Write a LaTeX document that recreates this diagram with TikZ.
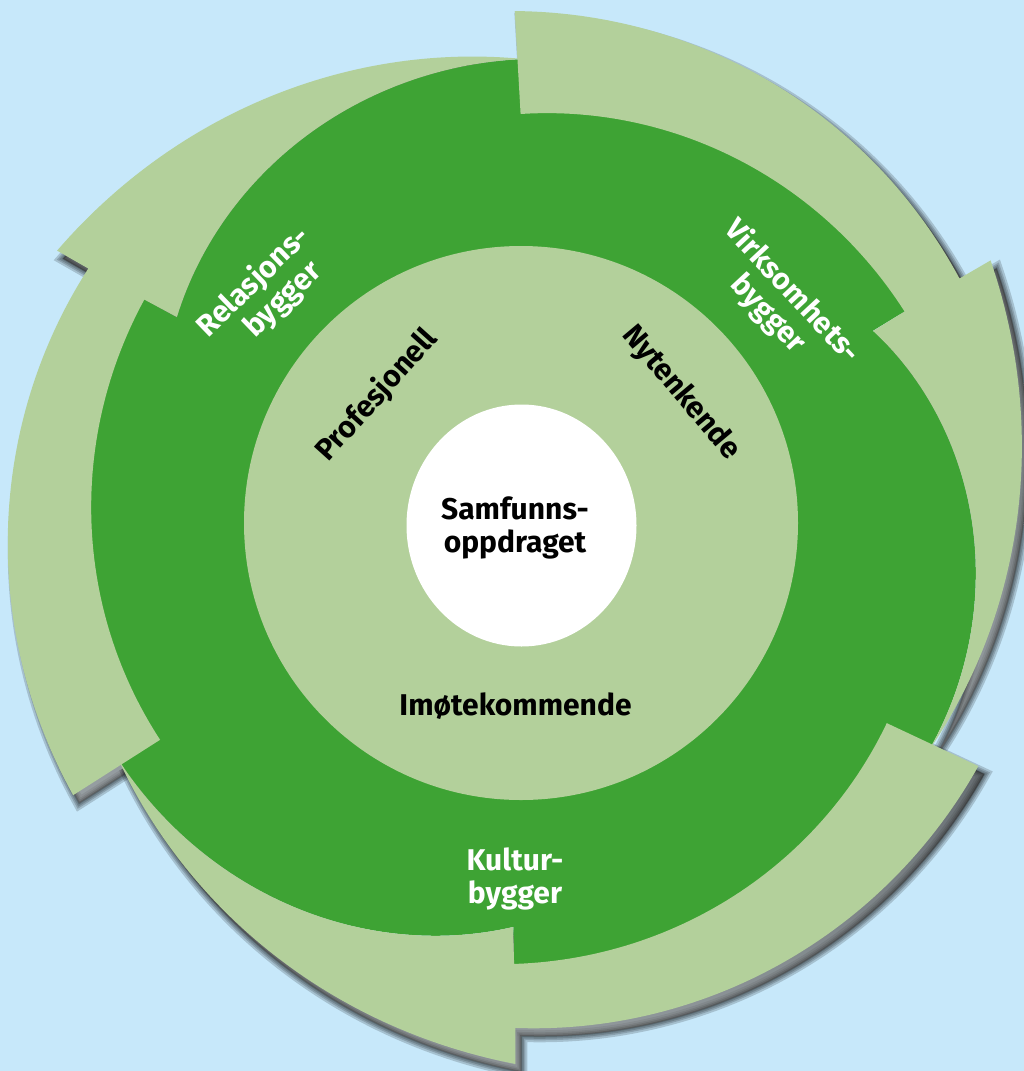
\documentclass[tikz,border=0pt]{standalone}
\usepackage{fontspec}
\setmainfont{Fira Sans}
\definecolor{sky}{RGB}{199,232,250}
\definecolor{leaf}{RGB}{179,208,155}
\definecolor{forest}{RGB}{62,163,52}
\definecolor{shade}{RGB}{84,104,120}
% centre of the ring, in picture units (1 unit = 1pt, y grows downwards)
\newcommand\ringcx{521}
\newcommand\ringcy{525}
% start point at angle #1 (degrees, counter-clockwise) and radius #2
\newcommand\pp[2]{({\ringcx+(#2)*cos(#1)},{\ringcy-(#2)*sin(#1)})}
% straight line to such a point
\newcommand\lto[2]{-- ({\ringcx+(#2)*cos(#1)},{\ringcy-(#2)*sin(#1)})}
% spiral piece: angle #1 -> #2, radius #3 -> #4, with bulge #5
\newcommand\spiral[5]{-- plot[domain=0:1,samples=60,variable=\f]
  ({\ringcx+((#3)+((#4)-(#3))*\f+(#5)*\f*(1-\f))*cos((#1)+((#2)-(#1))*\f)},
   {\ringcy-((#3)+((#4)-(#3))*\f+(#5)*\f*(1-\f))*sin((#1)+((#2)-(#1))*\f)})}
% one curved arrow, turned clockwise by #1:
% tail corners at angles #2 (outer) / #3 (inner), radii #4 / #5,
% head tip at angle #6, bulge of the inner head edge #7
\newcommand\arrowshape[7]{\pp{#2-#1}{#4}
  \spiral{#2-#1}{149.3-#1}{#4}{503}{0}
  \lto{149.4-#1}{539}
  \spiral{149.4-#1}{#6-#1}{539}{466}{-28}
  \spiral{#6-#1}{148.9-#1}{466}{402}{#7}
  \lto{149.1-#1}{439}
  \spiral{149.1-#1}{#3-#1}{439}{#5}{0}
  -- cycle}
\begin{document}
\begin{tikzpicture}[x=1pt,y=-1pt,
  lab/.style={font=\fontsize{30}{33}\selectfont\bfseries, text=black, inner sep=0pt},
  wlab/.style={lab, text=white, align=center}]
\fill[sky] (0,0) rectangle (1024,1071);
\path[use as bounding box] (0,0) rectangle (1024,1071);

% soft drop shadows of the three outer arrows
\foreach \k/\ta/\tb/\ra/\rb/\tip/\bul in
    {0/211.1/210.8/523/420/89.7/40, 120/210.7/210.1/514/411/91.0/70, 240/212.2/211.6/517/416/90.3/40}{
  \foreach \w in {12,8,5,2}{
    \filldraw[shade, line width=\w, opacity=0.17, shift={(6,8)}]
      \arrowshape{\k}{\ta}{\tb}{\ra}{\rb}{\tip}{\bul};
  }
}

% dark green ring under the arrows
\fill[forest] \pp{149.2}{470} \lto{148.9}{402}
  \spiral{148.9}{89.7}{402}{466}{40} \spiral{89.7}{29.2}{470}{470}{0}
  \lto{28.9}{402}
  \spiral{28.9}{-29.0}{402}{466}{70} \spiral{-29.0}{-90.8}{470}{470}{0}
  \lto{-91.1}{402}
  \spiral{-91.1}{-149.7}{402}{466}{40} \spiral{-149.7}{-210.8}{470}{470}{0}
  -- cycle;

% the three light green arrows
\foreach \k/\ta/\tb/\ra/\rb/\tip/\bul in
    {0/211.1/210.8/523/420/89.7/40, 120/210.7/210.1/514/411/91.0/70, 240/212.2/211.6/517/416/90.3/40}{
  \fill[leaf] \arrowshape{\k}{\ta}{\tb}{\ra}{\rb}{\tip}{\bul};
}

% inner disc and centre
\fill[leaf] (521,523) circle[radius=277];
\fill[white] (521.5,525.5) ellipse[x radius=115, y radius=121];
\node[lab, align=center] (core) at (515,528) {Samfunns-\\oppdraget};

% values on the inner disc
\node[lab, rotate=48] (prof) at (377,395) {Profesjonell};
\node[lab, rotate=-50] (nyt) at (681,393) {Nytenkende};
\node[lab] (imo) at (515.5,706) {Imøtekommende};

% roles on the ring
\node[wlab, rotate=44] (rel) at (265,294) {Relasjons-\\\hspace*{18pt}bygger};
\node[wlab, rotate=-47] (virk) at (780,303) {Virksomhets-\\bygger};
\node[wlab] (kult) at (515,879) {Kultur-\\bygger};
\end{tikzpicture}
\end{document}
